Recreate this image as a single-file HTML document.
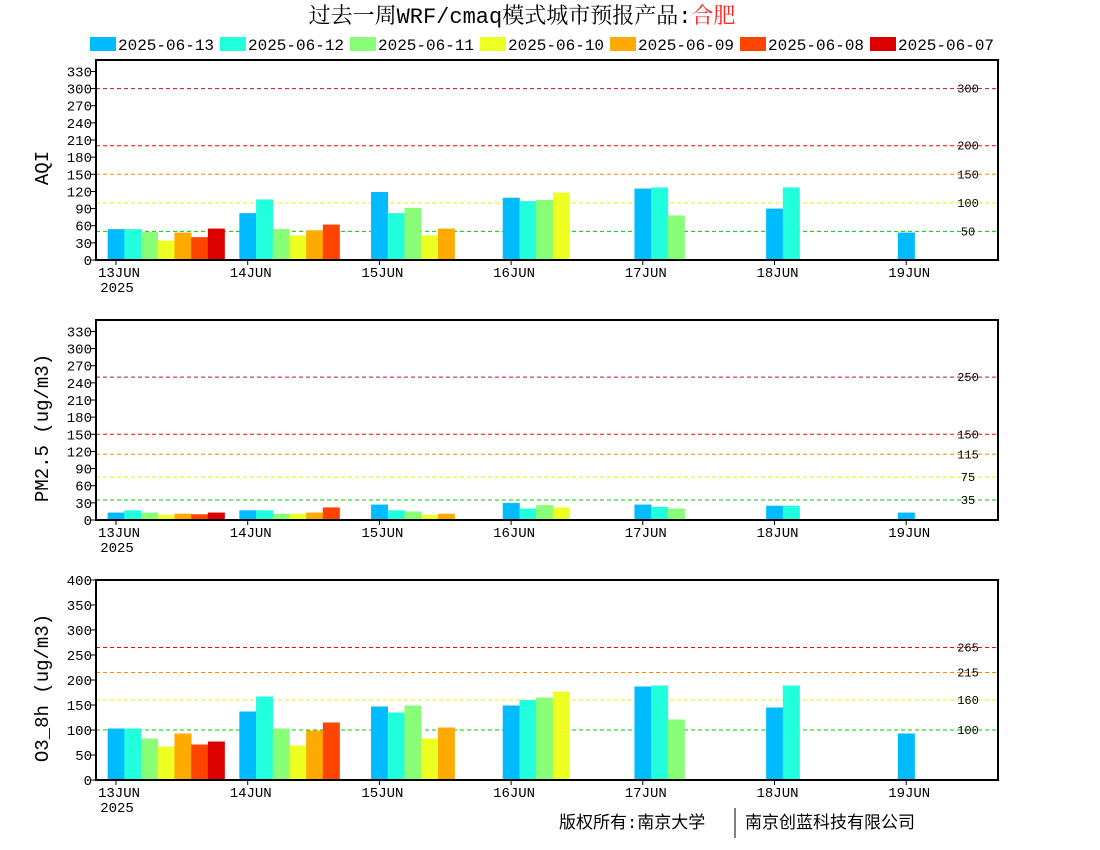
<!DOCTYPE html>
<html><head><meta charset="utf-8">
<style>
body{margin:0;background:#fff;width:1100px;height:850px;overflow:hidden}
svg{display:block}
text{font-family:"Liberation Mono","Noto Serif CJK SC",monospace;fill:#000}
</style></head>
<body>
<svg id="chart" width="1100" height="850" xmlns="http://www.w3.org/2000/svg">
<text x="522" y="23" font-size="22" text-anchor="middle" style="font-family:'Liberation Mono','Noto Serif CJK SC',monospace">过去一周WRF/cmaq模式城市预报产品:<tspan fill="#ff2020" style="fill:#ff2020">合肥</tspan></text>
<g id="legend"></g>
<g id="panels"></g>
<text x="559" y="828" font-size="17" style="font-family:'Liberation Mono','Noto Sans CJK SC',sans-serif">版权所有:南京大学</text>
<line x1="735" y1="808" x2="735" y2="838" stroke="#000" stroke-width="1"/>
<text x="745" y="828" font-size="17" style="font-family:'Liberation Mono','Noto Sans CJK SC',sans-serif">南京创蓝科技有限公司</text>
</svg>
<script>
const seriesNames=["2025-06-13","2025-06-12","2025-06-11","2025-06-10","2025-06-09","2025-06-08","2025-06-07"];
const seriesColors=["#00bbff","#22ffdd","#88ff77","#eeff22","#ffaa00","#ff4400","#dd0000"];
const dayLabels=["13JUN","14JUN","15JUN","16JUN","17JUN","18JUN","19JUN"];
const aqiValues=[[54,82,119,109,125,90,48],[54,106,82,103,127,127],[49,54,91,105,78],[34,43,43,118],[48,52,55],[40,62],[55]];
const pmValues=[[13,17,27,30,27,25,13],[17,17,17,20,23,25],[13,11,15,26,20],[9,11,9,22],[11,13,11],[10,22],[13]];
const o3Values=[[103,137,147,149,187,145,93],[103,167,135,160,189,189],[83,103,149,165,121],[67,69,83,177],[93,99,105],[71,115],[77]];
const aqiTicks=[0,30,60,90,120,150,180,210,240,270,300,330];
const pmTicks=[0,30,60,90,120,150,180,210,240,270,300,330];
const o3Ticks=[0,50,100,150,200,250,300,350,400];
const aqiThresholds=[300,200,150,100,50];
const pmThresholds=[250,150,115,75,35];
const o3Thresholds=[265,215,160,100];
const thrColors5=["#cc0066","#ff0000","#ff8800","#eeee00","#00cc00"];
const thrColors4=["#ff0000","#ff8800","#eeee00","#00cc00"];

const NS="http://www.w3.org/2000/svg";
function mk(tag,attrs,parent){const e=document.createElementNS(NS,tag);for(const k in attrs)e.setAttribute(k,attrs[k]);parent.appendChild(e);return e;}

const lg=document.getElementById('legend');
seriesNames.forEach((n,i)=>{
  const x=90+i*130;
  const r=mk('rect',{x:x,y:37,width:26,height:14,fill:seriesColors[i]},lg);
  
  
  const t=mk('text',{x:x+28,y:50,'font-size':16},lg);
  
  
  t.textContent=n;
});

const X0=96,X1=998,DAY0=116,DAYW=131.7,BARW=16.7;
function xDay(d){return DAY0+d*DAYW;}

function panel(name,top,ymax,ticks,values,thr,thrCols,ylabel){
  const g=mk('g',{},document.getElementById('panels'));
  
  
  const H=200,bot=top+H;
  const y=v=>bot-v/ymax*H;
  thr.forEach((v,i)=>{
    const l=mk('line',{x1:X0,x2:X1,y1:y(v),y2:y(v),stroke:thrCols[i],'stroke-width':1,'stroke-dasharray':'4,3'},g);
    
    
    const t=mk('text',{x:968,y:y(v)+4,'font-size':12,'text-anchor':'middle'},g);
    
    
    t.textContent=v;
  });
  values.forEach((ser,s)=>{
    ser.forEach((v,j)=>{
      const cx=xDay(j)-BARW/2+s*BARW;
      const r=mk('rect',{x:cx,y:y(v),width:BARW+0.3,height:bot-y(v),fill:seriesColors[s]},g);
      
      
    });
  });
  const f=mk('rect',{x:X0,y:top,width:X1-X0,height:H,fill:'none',stroke:'#000','stroke-width':2},g);
  
  
  ticks.forEach(v=>{
    mk('line',{x1:X0-5,x2:X0,y1:y(v),y2:y(v),stroke:'#000'},g);
    const t=mk('text',{x:X0-4,y:y(v)+5,'font-size':14,'text-anchor':'end'},g);
    
    
    t.textContent=v;
  });
  dayLabels.forEach((d,i)=>{
    mk('line',{x1:xDay(i),x2:xDay(i),y1:bot,y2:bot+5,stroke:'#000'},g);
    const t=mk('text',{x:xDay(i)+3,y:bot+17,'font-size':14,'text-anchor':'middle'},g);
    
    
    t.textContent=d;
  });
  const yr=mk('text',{x:xDay(0)+1,y:bot+32,'font-size':14,'text-anchor':'middle'},g);
  
  
  yr.textContent='2025';
  const yl=mk('text',{x:0,y:0,'font-size':19,'text-anchor':'middle',transform:'translate(48,'+(top+H/2+8)+') rotate(-90)'},g);
  
  
  yl.textContent=ylabel;
}
panel('aqi',60,350,aqiTicks,aqiValues,aqiThresholds,thrColors5,'AQI');
panel('pm25',320,350,pmTicks,pmValues,pmThresholds,thrColors5,'PM2.5 (ug/m3)');
panel('o3',580,400,o3Ticks,o3Values,o3Thresholds,thrColors4,'O3_8h (ug/m3)');
</script>
</body></html>
